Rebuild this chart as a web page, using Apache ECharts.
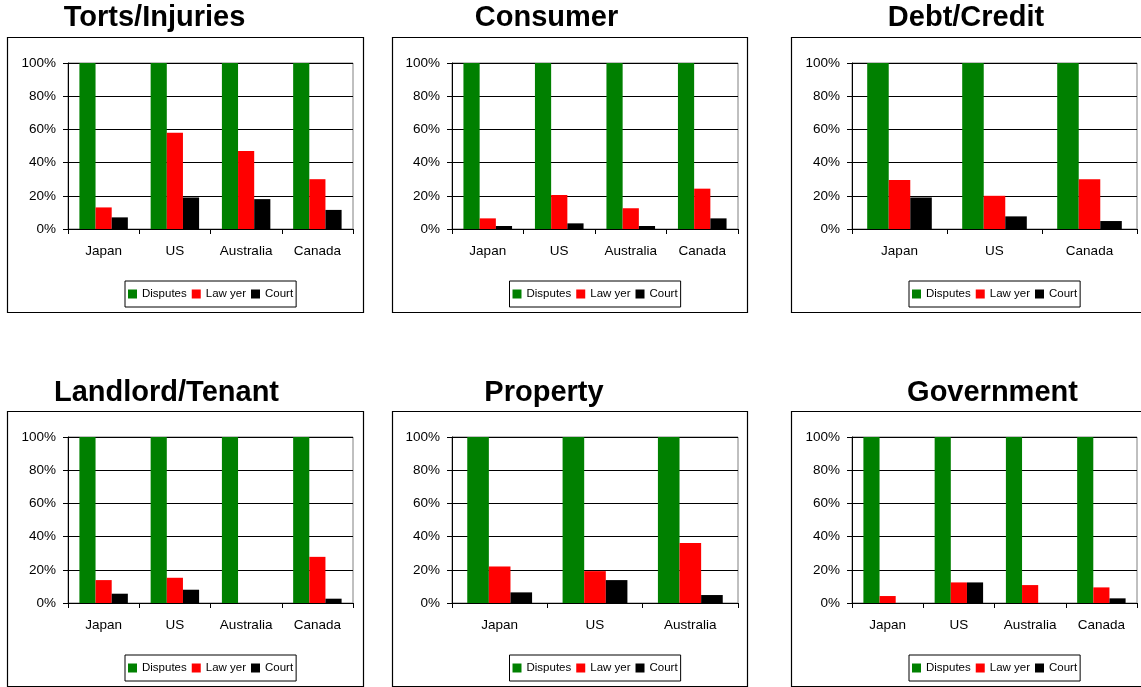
<!DOCTYPE html>
<html>
<head>
<meta charset="utf-8">
<script src="https://cdn.jsdelivr.net/npm/echarts@6/dist/echarts.min.js"></script>
<style>
html,body{margin:0;padding:0;background:#fff;}
#chart{width:1141px;height:687px;}
</style>
</head>
<body>
<div id="chart"></div>
<script>
// ---- data ----
var seriesNames = ['Disputes', 'Law yer', 'Court'];
var yTicks = [0, 20, 40, 60, 80, 100];

var tortsCategories = ['Japan', 'US', 'Australia', 'Canada'];
var tortsDisputes = [100, 100, 100, 100];
var tortsLawyer = [13, 58, 47, 30];
var tortsCourt = [7, 19, 18, 11.5];

var consumerCategories = ['Japan', 'US', 'Australia', 'Canada'];
var consumerDisputes = [100, 100, 100, 100];
var consumerLawyer = [6.4, 20.5, 12.5, 24.3];
var consumerCourt = [1.8, 3.4, 1.8, 6.4];

var debtCategories = ['Japan', 'US', 'Canada'];
var debtDisputes = [100, 100, 100];
var debtLawyer = [29.5, 20, 30];
var debtCourt = [19, 7.6, 4.8];

var landlordCategories = ['Japan', 'US', 'Australia', 'Canada'];
var landlordDisputes = [100, 100, 100, 100];
var landlordLawyer = [13.8, 15.2, 0, 27.8];
var landlordCourt = [5.6, 8, 0, 2.6];

var propertyCategories = ['Japan', 'US', 'Australia'];
var propertyDisputes = [100, 100, 100];
var propertyLawyer = [22, 19.2, 36.2];
var propertyCourt = [6.4, 13.8, 4.8];

var governmentCategories = ['Japan', 'US', 'Australia', 'Canada'];
var governmentDisputes = [100, 100, 100, 100];
var governmentLawyer = [4.2, 12.4, 10.8, 9.4];
var governmentCourt = [0, 12.4, 0, 2.8];

var panelTitles = ['Torts/Injuries', 'Consumer', 'Debt/Credit', 'Landlord/Tenant', 'Property', 'Government'];

var panels = [
  {title: panelTitles[0], cats: tortsCategories, d: tortsDisputes, l: tortsLawyer, c: tortsCourt},
  {title: panelTitles[1], cats: consumerCategories, d: consumerDisputes, l: consumerLawyer, c: consumerCourt},
  {title: panelTitles[2], cats: debtCategories, d: debtDisputes, l: debtLawyer, c: debtCourt},
  {title: panelTitles[3], cats: landlordCategories, d: landlordDisputes, l: landlordLawyer, c: landlordCourt},
  {title: panelTitles[4], cats: propertyCategories, d: propertyDisputes, l: propertyLawyer, c: propertyCourt},
  {title: panelTitles[5], cats: governmentCategories, d: governmentDisputes, l: governmentLawyer, c: governmentCourt}
];

// ---- layout ----
var FONT = '"Liberation Sans", Arial, sans-serif';
var colBox = [[7, 363], [392, 747], [791, 1147]];
var colPlot = [[68, 353], [452, 738], [852, 1137]];
var rowBoxTop = [37, 411];
var titleCenters = [[154.5, 17.5], [546.5, 17.5], [966, 17.5], [166.5, 392.5], [544, 392.5], [992.5, 392.5]];
var colors = ['#008000', '#ff0000', '#000000'];

var grids = [], xAxes = [], yAxes = [], series = [], legends = [], graphics = [];

panels.forEach(function (p, i) {
  var col = i % 3, row = Math.floor(i / 3);
  var bt = rowBoxTop[row];
  var pl = colPlot[col][0], pr = colPlot[col][1];
  var plotTop = bt + 26;
  grids.push({
    left: pl, top: plotTop, width: pr - pl, height: 166,
    show: true, borderColor: '#808080', borderWidth: 1, backgroundColor: 'transparent'
  });
  xAxes.push({
    type: 'category', gridIndex: i, data: p.cats,
    axisLine: {lineStyle: {color: '#000', width: 1}},
    axisTick: {show: true, length: 5, inside: false, alignWithLabel: false, lineStyle: {color: '#000'}},
    axisLabel: {color: '#000', fontSize: 13.5, fontFamily: FONT, margin: 15, interval: 0}
  });
  yAxes.push({
    type: 'value', gridIndex: i, min: yTicks[0], max: yTicks[yTicks.length - 1], interval: yTicks[1] - yTicks[0],
    axisLine: {show: true, lineStyle: {color: '#000', width: 1}},
    axisTick: {show: true, length: 5, lineStyle: {color: '#000'}},
    axisLabel: {color: '#000', fontSize: 13.5, fontFamily: FONT, margin: 12, formatter: '{value}%'},
    splitLine: {show: true, lineStyle: {color: '#000', width: 1}}
  });
  var vals = [p.d, p.l, p.c];
  seriesNames.forEach(function (name, k) {
    series.push({
      name: name, type: 'bar', xAxisIndex: i, yAxisIndex: i, data: vals[k],
      barGap: '0%', barCategoryGap: '32%',
      itemStyle: {color: colors[k]},
      silent: true, animation: false
    });
  });
  var cx = (pl + pr) / 2;
  legends.push({
    data: seriesNames, left: cx - 85.5, top: bt + 244,
    orient: 'horizontal', icon: 'rect', itemWidth: 9, itemHeight: 9, itemGap: 5,
    padding: [7, 3, 7, 3],
    backgroundColor: '#fff', borderColor: '#000', borderWidth: 1,
    textStyle: {color: '#000', fontSize: 11.5, fontFamily: FONT, lineHeight: 12},
    selectedMode: false
  });
  graphics.push({
    type: 'rect', silent: true, z: 0,
    shape: {x: colBox[col][0] + 0.5, y: bt + 0.5, width: colBox[col][1] - colBox[col][0], height: 275},
    style: {fill: 'none', stroke: '#000', lineWidth: 1.2}
  });
  graphics.push({
    type: 'text', silent: true,
    x: titleCenters[i][0], y: titleCenters[i][1],
    style: {
      text: p.title, fill: '#000', font: 'bold 29px ' + FONT,
      textAlign: 'center', textVerticalAlign: 'middle', align: 'center', verticalAlign: 'middle'
    }
  });
});

var chart = echarts.init(document.getElementById('chart'), null, {renderer: 'canvas'});
chart.setOption({
  animation: false,
  backgroundColor: '#fff',
  grid: grids,
  xAxis: xAxes,
  yAxis: yAxes,
  legend: legends,
  series: series,
  graphic: graphics
});
</script>
</body>
</html>
